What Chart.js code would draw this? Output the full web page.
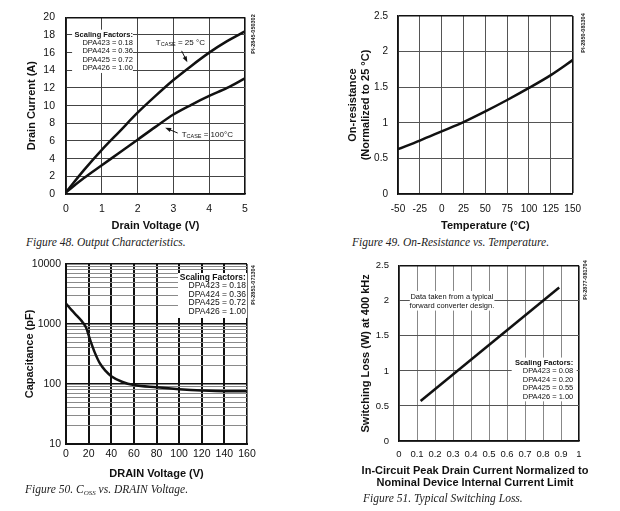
<!DOCTYPE html>
<html><head><meta charset="utf-8">
<script src="https://cdn.jsdelivr.net/npm/chart.js@4.4.1/dist/chart.umd.min.js"></script>
<style>
html,body{margin:0;padding:0;background:#fff;width:620px;height:511px;overflow:hidden;}
.cv{position:absolute;}
.cap{position:absolute;font-family:"Liberation Serif","Times New Roman",serif;font-style:italic;font-size:11.5px;line-height:14px;color:#222;white-space:nowrap;}
.cap sub{font-size:7px;vertical-align:-2px;}
.pid{position:absolute;font-family:"Liberation Sans",Arial,sans-serif;font-weight:bold;font-size:5.5px;color:#222;white-space:nowrap;transform:translate(-50%,-50%) rotate(-90deg);}
.xt{position:absolute;font-family:"Liberation Sans",Arial,sans-serif;font-weight:bold;font-size:11px;line-height:11.5px;color:#111;text-align:center;white-space:nowrap;}
</style></head>
<body>
<canvas id="c1" class="cv" width="260" height="235" style="left:0;top:0"></canvas>
<canvas id="c2" class="cv" width="280" height="235" style="left:310px;top:0"></canvas>
<canvas id="c3" class="cv" width="260" height="235" style="left:0;top:250px"></canvas>
<canvas id="c4" class="cv" width="290" height="240" style="left:330px;top:250px"></canvas>

<div class="cap" style="left:26px;top:235px">Figure 48. Output Characteristics.</div>
<div class="cap" style="left:352px;top:235px">Figure 49. On-Resistance vs. Temperature.</div>
<div class="cap" style="left:25px;top:482px">Figure 50. C<sub>OSS</sub> vs. DRAIN Voltage.</div>
<div class="cap" style="left:363px;top:491px">Figure 51. Typical Switching Loss.</div>
<div class="xt" style="left:325px;width:300px;top:465px">In-Circuit Peak Drain Current Normalized to<br>Nominal Device Internal Current Limit</div>
<div class="pid" style="left:253px;top:34px">PI-2845-050302</div>
<div class="pid" style="left:583px;top:33px">PI-2850-081304</div>
<div class="pid" style="left:253px;top:285px">PI-2851-071304</div>
<div class="pid" style="left:585px;top:280px">PI-2877-081704</div>

<script>
// ---- Figure 48: Output characteristics ----
const drainVoltageA = [0, 0.5, 1, 1.5, 2, 2.5, 3, 3.5, 4, 4.5, 5];
const current25C   = [0.2, 2.7, 5.0, 7.1, 9.2, 11.1, 12.9, 14.5, 16.0, 17.3, 18.4];
const current100C  = [0.2, 1.8, 3.25, 4.7, 6.15, 7.6, 9.0, 10.1, 11.1, 12.0, 13.1];
// ---- Figure 49: On-resistance vs temperature ----
const temperature  = [-50, -25, 0, 25, 50, 75, 100, 125, 150];
const onResistance = [0.63, 0.75, 0.88, 1.01, 1.16, 1.32, 1.49, 1.67, 1.88];
// ---- Figure 50: Coss vs drain voltage ----
const drainVoltageC = [0, 5, 10, 15, 18, 20, 22, 25, 30, 35, 40, 50, 60, 80, 100, 120, 140, 160];
const capacitance   = [2200, 1700, 1350, 1050, 850, 650, 500, 350, 220, 165, 135, 108, 96, 88, 82, 78, 76, 76];
const capDecades    = [10, 100, 1000, 10000];
// ---- Figure 51: switching loss ----
const peakCurrentNorm = [0.12, 0.89];
const switchingLoss   = [0.57, 2.19];
// ---- Scaling factor labels ----
const scaling48 = ['DPA423 = 0.18', 'DPA424 = 0.36', 'DPA425 = 0.72', 'DPA426 = 1.00'];
const scaling50 = ['DPA423 = 0.18', 'DPA424 = 0.36', 'DPA425 = 0.72', 'DPA426 = 1.00'];
const scaling51 = ['DPA423 = 0.08', 'DPA424 = 0.20', 'DPA425 = 0.55', 'DPA426 = 1.00'];

const FONT = '"Liberation Sans", Arial, Helvetica, sans-serif';
const INK = '#111';

function pts(xs, ys) { return xs.map((x, i) => ({x: x, y: ys[i]})); }
function near(a, b) { return Math.abs(a - b) < 1e-9; }
function fmt(v) { return String(+Number(v).toFixed(2)); }

function notes(items) {
  return {
    id: 'notes',
    beforeDatasetsDraw(chart) {
      const ctx = chart.ctx, xs = chart.scales.x, ys = chart.scales.y;
      ctx.save();
      items.filter(it => it.type === 'box').forEach(it => {
        const x1 = xs.getPixelForValue(it.x1), x2 = xs.getPixelForValue(it.x2);
        const y1 = ys.getPixelForValue(it.y1), y2 = ys.getPixelForValue(it.y2);
        ctx.fillStyle = '#fff';
        ctx.fillRect(Math.min(x1, x2), Math.min(y1, y2), Math.abs(x2 - x1), Math.abs(y2 - y1));
      });
      ctx.restore();
    },
    afterDatasetsDraw(chart) {
      const ctx = chart.ctx, xs = chart.scales.x, ys = chart.scales.y;
      ctx.save();
      items.forEach(it => {
        if (it.type === 'text') {
          const parts = it.parts || [{t: it.text, size: it.size, bold: it.bold}];
          let w = 0;
          parts.forEach(p => { ctx.font = (p.bold ? 'bold ' : '') + p.size + 'px ' + FONT; p.w = ctx.measureText(p.t).width; w += p.w; });
          let x = xs.getPixelForValue(it.x);
          const y = ys.getPixelForValue(it.y);
          if (it.align === 'right') x -= w; else if (it.align === 'center') x -= w / 2;
          ctx.fillStyle = INK; ctx.textBaseline = 'middle'; ctx.textAlign = 'left';
          parts.forEach(p => {
            ctx.font = (p.bold ? 'bold ' : '') + p.size + 'px ' + FONT;
            ctx.fillText(p.t, x, y + (p.dy || 0));
            x += p.w;
          });
        } else if (it.type === 'arrow') {
          const x1 = xs.getPixelForValue(it.x1), y1 = ys.getPixelForValue(it.y1);
          const x2 = xs.getPixelForValue(it.x2), y2 = ys.getPixelForValue(it.y2);
          const a = Math.atan2(y2 - y1, x2 - x1), L = 6, W = 2.2;
          ctx.strokeStyle = INK; ctx.fillStyle = INK; ctx.lineWidth = 1;
          ctx.beginPath(); ctx.moveTo(x1, y1);
          ctx.lineTo(x2 - Math.cos(a) * L * 0.8, y2 - Math.sin(a) * L * 0.8); ctx.stroke();
          ctx.beginPath(); ctx.moveTo(x2, y2);
          ctx.lineTo(x2 - Math.cos(a) * L - Math.sin(a) * W, y2 - Math.sin(a) * L + Math.cos(a) * W);
          ctx.lineTo(x2 - Math.cos(a) * L + Math.sin(a) * W, y2 - Math.sin(a) * L - Math.cos(a) * W);
          ctx.closePath(); ctx.fill();
        }
      });
      ctx.restore();
    }
  };
}

function axis(o) {
  const min = o.min, max = o.max;
  const cfg = {
    type: o.type || 'linear', min: min, max: max,
    ticks: Object.assign({color: INK, font: {family: FONT, size: o.tickSize}, padding: o.tickPad, callback: fmt, autoSkip: false, maxRotation: 0}, o.stepSize ? {stepSize: o.stepSize} : {}),
    grid: {
      drawTicks: false,
      color: c => (c.tick && near(c.tick.value, max)) ? INK : (o.gridColor instanceof Function ? o.gridColor(c) : o.gridColor),
      lineWidth: c => (c.tick && near(c.tick.value, max)) ? 1.6 : (o.gridWidth instanceof Function ? o.gridWidth(c) : o.gridWidth)
    },
    border: {color: INK, width: o.borderWidth || 1.6},
    afterFit: o.afterFit
  };
  if (o.title) cfg.title = {display: true, text: o.title, color: INK, font: {family: FONT, size: 11, weight: 'bold', lineHeight: o.titleLH || 1.2}, padding: o.titlePad};
  return cfg;
}

function baseOptions(pad, scales, extraPlugins) {
  return {
    responsive: false, animation: false, events: [],
    layout: {autoPadding: false, padding: pad},
    plugins: Object.assign({legend: {display: false}, tooltip: {enabled: false}, title: {display: false}}, extraPlugins || {}),
    scales: scales
  };
}

function lineDs(data, w) {
  return {data: data, showLine: true, borderColor: INK, borderWidth: w || 2.5, pointRadius: 0, fill: false, tension: 0.4, cubicInterpolationMode: 'monotone'};
}

// ---------- Chart 1 ----------
new Chart(document.getElementById('c1'), {
  type: 'scatter',
  data: {datasets: [lineDs(pts(drainVoltageA, current25C)), lineDs(pts(drainVoltageA, current100C))]},
  options: baseOptions({left: 0, right: 15, top: 14, bottom: 0}, {
    x: axis({min: 0, max: 5, stepSize: 1, tickSize: 10.5, tickPad: 8.5, gridColor: '#444', gridWidth: 1,
      title: 'Drain Voltage (V)', titlePad: {top: 0, bottom: 2.7}, afterFit: s => { s.height = 41; }}),
    y: axis({min: 0, max: 20, stepSize: 2, tickSize: 10.5, tickPad: 11, gridColor: '#444', gridWidth: 1,
      title: 'Drain Current (A)', titlePad: {top: 25.4, bottom: 0}, afterFit: s => { s.width = 66; }})
  }),
  plugins: [notes([
    {type: 'box', x1: 0.17, x2: 1.87, y1: 13.7, y2: 18.6},
    {type: 'text', x: 1.87, y: 18.0, align: 'right', text: 'Scaling Factors:', size: 7.5, bold: true},
    {type: 'text', x: 1.87, y: 17.1, align: 'right', text: scaling48[0], size: 7.5},
    {type: 'text', x: 1.87, y: 16.15, align: 'right', text: scaling48[1], size: 7.5},
    {type: 'text', x: 1.87, y: 15.2, align: 'right', text: scaling48[2], size: 7.5},
    {type: 'text', x: 1.87, y: 14.25, align: 'right', text: scaling48[3], size: 7.5},
    {type: 'text', x: 2.51, y: 17.1, parts: [{t: 'T', size: 8}, {t: 'CASE', size: 5.5, dy: 2}, {t: ' = 25 °C', size: 8}]},
    {type: 'arrow', x1: 3.23, y1: 16.2, x2: 3.39, y2: 14.9},
    {type: 'text', x: 3.23, y: 6.7, parts: [{t: 'T', size: 8}, {t: 'CASE', size: 5.5, dy: 2}, {t: ' = 100°C', size: 8}]},
    {type: 'arrow', x1: 3.12, y1: 6.9, x2: 2.77, y2: 7.5}
  ])]
});

// ---------- Chart 2 ----------
new Chart(document.getElementById('c2'), {
  type: 'scatter',
  data: {datasets: [lineDs(pts(temperature, onResistance))]},
  options: baseOptions({left: 0, right: 12, top: 14, bottom: 0}, {
    x: axis({min: -50, max: 150, stepSize: 25, tickSize: 10, tickPad: 9, gridColor: '#555', gridWidth: 1,
      title: 'Temperature (°C)', titlePad: {top: 0, bottom: 2.7}, afterFit: s => { s.height = 41; }}),
    y: axis({min: 0, max: 2.5, stepSize: 0.5, tickSize: 10, tickPad: 10, gridColor: '#555', gridWidth: 1,
      title: ['On-resistance', '(Normalized to 25 °C)'], titleLH: 1.15, titlePad: {top: 36.7, bottom: 0}, afterFit: s => { s.width = 88; }})
  })
});

// ---------- Chart 3 ----------
new Chart(document.getElementById('c3'), {
  type: 'scatter',
  data: {datasets: [lineDs(pts(drainVoltageC, capacitance))]},
  options: baseOptions({left: 0, right: 13, top: 14, bottom: 0}, {
    x: axis({min: 0, max: 160, stepSize: 20, tickSize: 10.5, tickPad: 3.7, gridColor: INK, gridWidth: 2, borderWidth: 2,
      title: 'DRAIN Voltage (V)', titlePad: {top: 0, bottom: 4.4}, afterFit: s => { s.height = 41; }}),
    y: Object.assign(axis({type: 'logarithmic', min: 10, max: 10000, tickSize: 10.5, tickPad: 5, borderWidth: 2,
      gridColor: c => (c.tick && capDecades.some(d => near(d, c.tick.value))) ? INK : '#8a8a8a',
      gridWidth: c => (c.tick && capDecades.some(d => near(d, c.tick.value))) ? 1.5 : 1,
      title: 'Capacitance (pF)', titlePad: {top: 23.4, bottom: 0}, afterFit: s => { s.width = 66; }}), {
      afterBuildTicks: s => {
        const t = [];
        capDecades.forEach(d => { for (let m = 1; m < 10; m++) { if (d * m <= 10000) t.push({value: d * m}); } });
        s.ticks = t;
      }
    })
  }),
  plugins: [notes([
    {type: 'box', x1: 99, x2: 160, y1: 1260, y2: 7080},
    {type: 'text', x: 159, y: 5845, align: 'right', text: 'Scaling Factors:', size: 8.5, bold: true},
    {type: 'text', x: 159, y: 4300, align: 'right', text: scaling50[0], size: 8.5},
    {type: 'text', x: 159, y: 3043, align: 'right', text: scaling50[1], size: 8.5},
    {type: 'text', x: 159, y: 2240, align: 'right', text: scaling50[2], size: 8.5},
    {type: 'text', x: 159, y: 1585, align: 'right', text: scaling50[3], size: 8.5}
  ])]
});
// y tick labels only at decades
Chart.getChart('c3').options.scales.y.ticks.callback = v => capDecades.some(d => near(d, v)) ? String(v) : '';
Chart.getChart('c3').update();

// ---------- Chart 4 ----------
new Chart(document.getElementById('c4'), {
  type: 'scatter',
  data: {datasets: [Object.assign(lineDs(pts(peakCurrentNorm, switchingLoss)), {tension: 0})]},
  options: baseOptions({left: 0, right: 41, top: 10, bottom: 27}, {
    x: axis({min: 0, max: 1, stepSize: 0.1, tickSize: 9.5, tickPad: 7.3, gridColor: '#888', gridWidth: 1,
      afterFit: s => { s.height = 22; }}),
    y: axis({min: 0, max: 2.5, stepSize: 0.5, tickSize: 9.5, tickPad: 10, gridColor: '#555', gridWidth: 1,
      title: 'Switching Loss (W) at 400 kHz', titlePad: {top: 29.1, bottom: 0}, afterFit: s => { s.width = 69; }})
  }),
  plugins: [notes([
    {type: 'box', x1: 0.06, x2: 0.53, y1: 1.86, y2: 2.14},
    {type: 'text', x: 0.294, y: 2.06, align: 'center', text: 'Data taken from a typical', size: 7.5},
    {type: 'text', x: 0.294, y: 1.93, align: 'center', text: 'forward converter design.', size: 7.5},
    {type: 'box', x1: 0.626, x2: 0.987, y1: 0.566, y2: 1.19},
    {type: 'text', x: 0.968, y: 1.119, align: 'right', text: 'Scaling Factors:', size: 7.5, bold: true},
    {type: 'text', x: 0.968, y: 1.005, align: 'right', text: scaling51[0], size: 7.5},
    {type: 'text', x: 0.968, y: 0.874, align: 'right', text: scaling51[1], size: 7.5},
    {type: 'text', x: 0.968, y: 0.75, align: 'right', text: scaling51[2], size: 7.5},
    {type: 'text', x: 0.968, y: 0.626, align: 'right', text: scaling51[3], size: 7.5}
  ])]
});
</script>
</body></html>
